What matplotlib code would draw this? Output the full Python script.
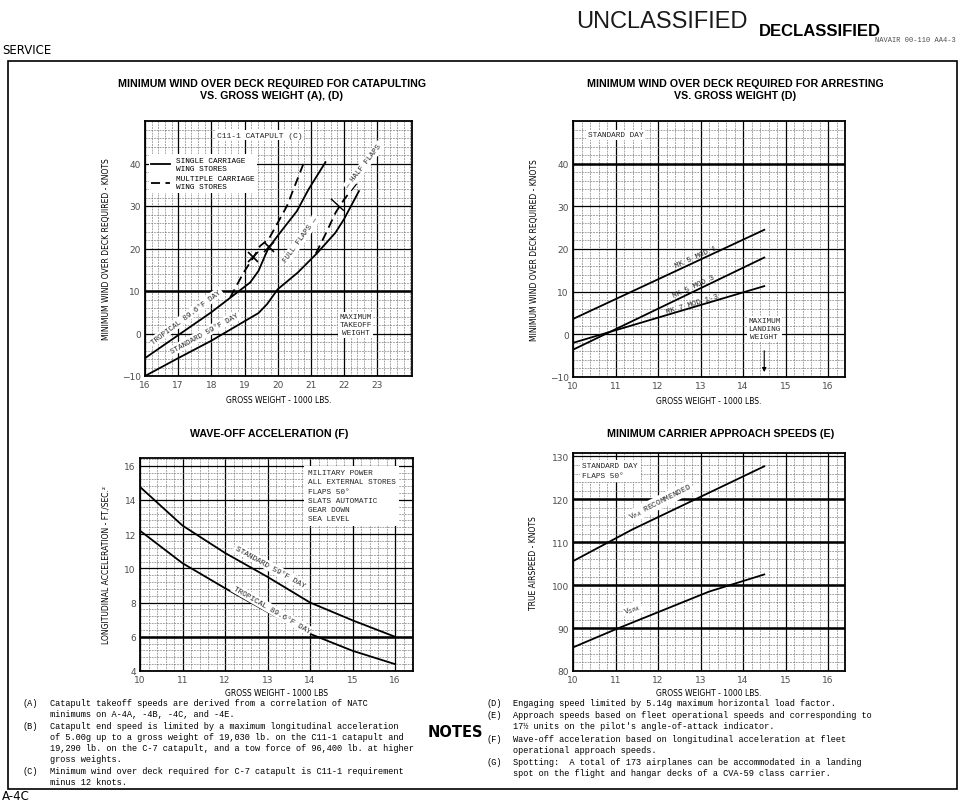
import numpy as np
import matplotlib
matplotlib.use("Agg")
import matplotlib.pyplot as plt
from matplotlib.ticker import MultipleLocator
from matplotlib.patches import Rectangle
from matplotlib.lines import Line2D

# ---- data ----
# catapult: wind over deck (knots) vs gross weight (1000 lb)
std_solid_x = [16.0, 17.0, 18.0, 19.42, 19.68, 20.0, 20.6, 21.2, 21.74, 22.0, 22.45]
std_solid_y = [-10.0, -5.8, -1.7, 4.8, 6.9, 10.4, 14.3, 19.0, 23.7, 26.9, 33.5]
std_dash_x = [21.15, 21.45, 21.75, 22.0, 22.45]
std_dash_y = [18.8, 23.5, 28.5, 31.5, 36.0]
trop_solid_x = [16.0, 17.0, 18.0, 19.17, 19.42, 19.63, 19.73, 20.1, 20.58, 20.93, 21.44]
trop_solid_y = [-5.8, -0.4, 5.0, 12.0, 14.7, 18.5, 20.2, 24.0, 28.8, 33.9, 40.3]
trop_dash_x = [18.57, 18.97, 19.27, 19.47, 19.73, 20.28, 20.8]
trop_dash_y = [8.5, 14.3, 17.9, 20.6, 22.2, 30.0, 40.4]
cat_limit_x = [19.27, 19.73]
cat_limit_y = [17.9, 20.4]
flap_change_x = [21.62, 21.98]
flap_change_y = [31.6, 29.0]

# arresting: wind over deck vs gross weight
arr_x = [10.0, 14.5]
mk5_mod1 = [3.6, 24.5]
mk5_mod3 = [-3.6, 18.0]
mk7_mod13 = [-2.0, 11.3]

# wave-off acceleration (ft/sec^2)
wo_x = [10, 11, 12, 13, 14, 15, 16]
wo_std = [14.76, 12.5, 10.9, 9.5, 8.0, 6.96, 6.0]
wo_trop = [12.2, 10.3, 8.84, 7.45, 6.17, 5.18, 4.4]

# approach speeds (knots TAS)
vpa_x = [10.0, 11.4, 14.5]
vpa_y = [105.6, 113.0, 127.7]
vspa_x = [10.0, 11.0, 13.2, 14.5]
vspa_y = [85.5, 89.7, 98.5, 102.5]

cat_xticks = [16, 17, 18, 19, 20, 21, 22, 23]
wod_yticks = [-10, 0, 10, 20, 30, 40]
gw_xticks = [10, 11, 12, 13, 14, 15, 16]
acc_yticks = [4, 6, 8, 10, 12, 14, 16]
tas_yticks = [80, 90, 100, 110, 120, 130]

notes_left = [
    ("(A)", "Catapult takeoff speeds are derived from a correlation of NATC"),
    ("", "minimums on A-4A, -4B, -4C, and -4E."),
    ("(B)", "Catapult end speed is limited by a maximum longitudinal acceleration"),
    ("", "of 5.00g up to a gross weight of 19,030 lb. on the C11-1 catapult and"),
    ("", "19,290 lb. on the C-7 catapult, and a tow force of 96,400 lb. at higher"),
    ("", "gross weights."),
    ("(C)", "Minimum wind over deck required for C-7 catapult is C11-1 requirement"),
    ("", "minus 12 knots."),
]
notes_right = [
    ("(D)", "Engaging speed limited by 5.14g maximum horizontal load factor."),
    ("(E)", "Approach speeds based on fleet operational speeds and corresponding to"),
    ("", "17\u00bd units on the pilot's angle-of-attack indicator."),
    ("(F)", "Wave-off acceleration based on longitudinal acceleration at fleet"),
    ("", "operational approach speeds."),
    ("(G)", "Spotting:  A total of 173 airplanes can be accommodated in a landing"),
    ("", "spot on the flight and hangar decks of a CVA-59 class carrier."),
]

W, H = 960, 804
MONO = ["Liberation Mono", "DejaVu Sans Mono"]
NARROW = ["Liberation Sans", "DejaVu Sans"]
plt.rcParams["font.family"] = ["DejaVu Sans"]

fig = plt.figure(figsize=(9.6, 8.04), dpi=100)


def px_axes(x0, y0, x1, y1):
    return fig.add_axes([x0 / W, 1 - y1 / H, (x1 - x0) / W, (y1 - y0) / H])


def grid_panel(ax, xlim, ylim, xticks, yticks, xminor, yminor, heavy_y=()):
    ax.set_xlim(*xlim)
    ax.set_ylim(*ylim)
    ax.set_xticks(xticks)
    ax.set_yticks(yticks)
    ax.xaxis.set_minor_locator(MultipleLocator(xminor))
    ax.yaxis.set_minor_locator(MultipleLocator(yminor))
    ax.grid(which="major", color="k", lw=0.9)
    ax.grid(which="minor", color="0.45", lw=0.45, ls=(0, (3, 1.5)))
    ax.set_axisbelow(True)
    ax.tick_params(which="both", length=0, labelsize=6.5, colors="0.3", pad=3)
    for v in heavy_y:
        ax.axhline(v, color="k", lw=1.8, zorder=1)
    for s in ax.spines.values():
        s.set_linewidth(1.3)


def label(ax, x, y, s, rot=0, size=5.6, box=True, ha="center"):
    kw = dict(facecolor="white", edgecolor="none", pad=1.0) if box else None
    ax.text(x, y, s, rotation=rot, rotation_mode="anchor", ha=ha, va="center",
            fontsize=size, family=MONO, color="0.15", bbox=kw, zorder=5)


# ---------- catapult ----------
ax1 = px_axes(145, 122, 412, 377)
grid_panel(ax1, (16, 24.05), (-10, 50), cat_xticks, wod_yticks, 0.2, 2, heavy_y=[10])
ax1.plot(std_solid_x, std_solid_y, color="k", lw=1.3, zorder=4)
ax1.plot(std_dash_x, std_dash_y, color="k", lw=1.3, ls=(0, (5, 3)), zorder=4)
ax1.plot(trop_solid_x, trop_solid_y, color="k", lw=1.3, zorder=4)
ax1.plot(trop_dash_x, trop_dash_y, color="k", lw=1.3, ls=(0, (5, 3)), zorder=4)
ax1.plot(cat_limit_x, cat_limit_y, ls="none", marker="x", ms=7, mew=1.2, color="k", zorder=4)
ax1.plot(flap_change_x, flap_change_y, color="k", lw=1.0, zorder=4)
label(ax1, 17.24, 3.9, "TROPICAL 89.6\u00b0F DAY", rot=37, size=5.4)
label(ax1, 17.8, 0.1, "STANDARD 59\u00b0F DAY", rot=29, size=5.4)
label(ax1, 20.7, 22.2, "FULL FLAPS \u2014", rot=54, size=5.4)
label(ax1, 22.6, 39.5, "\u2014 HALF FLAPS", rot=52, size=5.4)
label(ax1, 19.47, 46.7, "C11-1 CATAPULT (C)", size=5.8)
label(ax1, 22.35, 2.0, "MAXIMUM\nTAKEOFF\nWEIGHT", size=5.6)
handles = [Line2D([], [], color="k", lw=1.3),
           Line2D([], [], color="k", lw=1.3, ls=(0, (5, 3)))]
leg = ax1.legend(handles, ["SINGLE CARRIAGE\nWING STORES", "MULTIPLE CARRIAGE\nWING STORES"],
                 loc="upper left", bbox_to_anchor=(0.0, 0.885), handlelength=2.4,
                 prop={"family": MONO, "size": 5.6}, frameon=True, fancybox=False,
                 framealpha=1, edgecolor="none", borderpad=0.3, labelspacing=0.5)
leg.set_zorder(6)
ax1.set_xlabel("GROSS WEIGHT - 1000 LBS.", fontsize=5.5, labelpad=4)
ax1.set_ylabel("MINIMUM WIND OVER DECK REQUIRED - KNOTS", fontsize=5.5, labelpad=8)

# ---------- arresting ----------
ax2 = px_axes(573, 122, 845, 378)
grid_panel(ax2, (10, 16.4), (-10, 50), gw_xticks, wod_yticks, 0.2, 2, heavy_y=[40])
ax2.plot(arr_x, mk5_mod1, color="k", lw=1.3, zorder=4)
ax2.plot(arr_x, mk5_mod3, color="k", lw=1.3, zorder=4)
ax2.plot(arr_x, mk7_mod13, color="k", lw=1.3, zorder=4)
label(ax2, 12.9, 18.3, "MK 5 MOD 1", rot=24, size=5.4, box=False)
label(ax2, 12.85, 11.2, "MK 5 MOD 3", rot=25, size=5.4, box=False)
label(ax2, 12.8, 7.3, "MK 7 MOD 1-3", rot=17, size=5.4, box=False)
label(ax2, 10.35, 46.8, "STANDARD DAY", size=5.6, ha="left")
label(ax2, 14.5, 1.3, "MAXIMUM\nLANDING\nWEIGHT", size=5.6)
ax2.annotate("", xy=(14.5, -9.5), xytext=(14.5, -3.2),
             arrowprops=dict(arrowstyle="-|>", color="k", lw=0.8, mutation_scale=6), zorder=5)
ax2.set_xlabel("GROSS WEIGHT - 1000 LBS.", fontsize=5.5, labelpad=4)
ax2.set_ylabel("MINIMUM WIND OVER DECK REQUIRED - KNOTS", fontsize=5.5, labelpad=8)

# ---------- wave-off ----------
ax3 = px_axes(140, 459, 413, 672)
grid_panel(ax3, (10, 16.42), (4, 16.45), gw_xticks, acc_yticks, 0.2, 0.4, heavy_y=[6])
ax3.plot(wo_x, wo_std, color="k", lw=1.3, zorder=4)
ax3.plot(wo_x, wo_trop, color="k", lw=1.3, zorder=4)
label(ax3, 13.06, 10.1, "STANDARD 59\u00b0F DAY", rot=-29, size=5.6)
label(ax3, 13.1, 7.6, "TROPICAL 89.6\u00b0F DAY", rot=-30, size=5.6)
ax3.text(13.95, 14.25, "MILITARY POWER\nALL EXTERNAL STORES\nFLAPS 50\u00b0\nSLATS AUTOMATIC\nGEAR DOWN\nSEA LEVEL",
         ha="left", va="center", fontsize=5.6, family=MONO, color="0.15", linespacing=1.45,
         bbox=dict(facecolor="white", edgecolor="none", pad=2.5), zorder=5)
ax3.set_xlabel("GROSS WEIGHT - 1000 LBS", fontsize=5.5, labelpad=3)
ax3.set_ylabel("LONGITUDINAL ACCELERATION - FT./SEC.\u00b2", fontsize=5.5, labelpad=10)

# ---------- approach speeds ----------
ax4 = px_axes(573, 454, 845, 672)
grid_panel(ax4, (10, 16.4), (80, 130.8), gw_xticks, tas_yticks, 0.2, 2, heavy_y=[90, 100, 110, 120])
ax4.plot(vpa_x, vpa_y, color="k", lw=1.3, zorder=4)
ax4.plot(vspa_x, vspa_y, color="k", lw=1.3, zorder=4)
label(ax4, 12.05, 119.4, "V$_{PA}$ RECOMMENDED", rot=27, size=5.6)
label(ax4, 11.4, 94.3, "V$_{SPA}$", rot=20, size=5.6)
ax4.text(10.22, 126.7, "STANDARD DAY\nFLAPS 50\u00b0", ha="left", va="center", fontsize=5.6,
         family=MONO, color="0.15", linespacing=1.5,
         bbox=dict(facecolor="white", edgecolor="none", pad=2.0), zorder=5)
ax4.set_xlabel("GROSS WEIGHT - 1000 LBS.", fontsize=5.5, labelpad=3)
ax4.set_ylabel("TRUE AIRSPEED - KNOTS", fontsize=5.5, labelpad=10)

# ---------- titles ----------
def ftext(x, y, s, **kw):
    fig.text(x / W, 1 - y / H, s, **kw)

tkw = dict(ha="center", va="center", fontsize=7.7, fontweight="bold", family=NARROW, linespacing=1.3)
ftext(272, 90, "MINIMUM WIND OVER DECK REQUIRED FOR CATAPULTING\nVS. GROSS WEIGHT (A), (D)", **tkw)
ftext(735, 90, "MINIMUM WIND OVER DECK REQUIRED FOR ARRESTING\nVS. GROSS WEIGHT (D)", **tkw)
ftext(269, 434, "WAVE-OFF ACCELERATION (F)", **tkw)
ftext(721, 434, "MINIMUM CARRIER APPROACH SPEEDS (E)", **tkw)

# ---------- header / page ----------
ftext(2, 50, "SERVICE", ha="left", va="center", fontsize=8.5)
ftext(662, 22, "UNCLASSIFIED", ha="center", va="center", fontsize=17, family=NARROW, color="0.1")
ftext(820, 32, "DECLASSIFIED", ha="center", va="center", fontsize=12, fontweight="bold",
      family=NARROW, color="k")
ftext(956, 40, "NAVAIR 00-110 AA4-3", ha="right", va="center", fontsize=5, family=MONO, color="0.3")
ftext(2, 797, "A-4C", ha="left", va="center", fontsize=8.5)
fig.add_artist(Rectangle((8 / W, 1 - 790 / H), (957 - 8) / W, (790 - 62) / H,
                         transform=fig.transFigure, fill=False, lw=1.2, color="k"))

# ---------- notes ----------
ftext(455, 733, "NOTES", ha="center", va="center", fontsize=10.5, fontweight="bold")
left_rows = [704, 715, 727, 738, 749, 760, 772, 783]
for (tag, line), yy in zip(notes_left, left_rows):
    if tag:
        ftext(22, yy, tag, ha="left", va="center", fontsize=6.2, family=MONO)
    ftext(50, yy, line, ha="left", va="center", fontsize=6.2, family=MONO)
right_rows = [704, 716, 727, 740, 751, 763, 774]
for (tag, line), yy in zip(notes_right, right_rows):
    if tag:
        ftext(487, yy, tag, ha="left", va="center", fontsize=6.2, family=MONO)
    ftext(513, yy, line, ha="left", va="center", fontsize=6.2, family=MONO)

fig.savefig("out.png", dpi=100)
